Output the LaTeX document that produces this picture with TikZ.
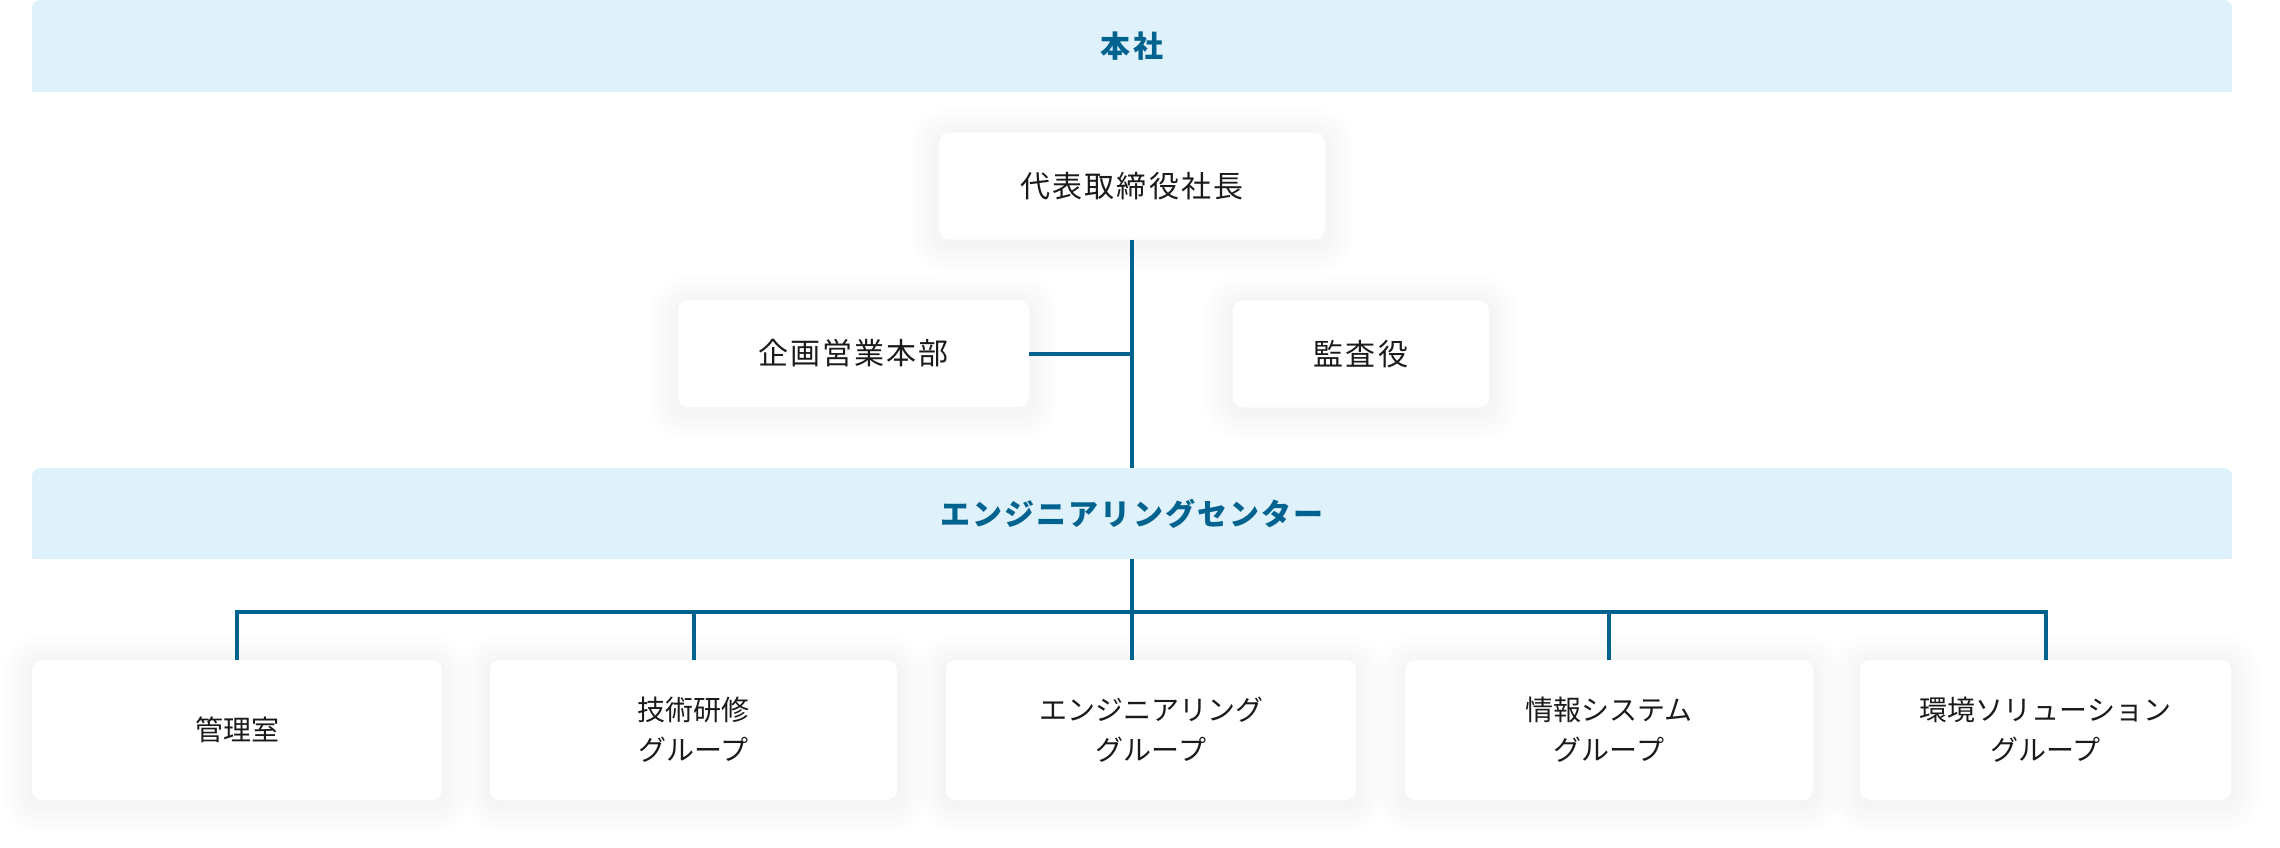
\documentclass[tikz,border=0pt]{standalone}
\usepackage{fontspec}
\setmainfont{Noto Sans CJK JP}
\newfontfamily\jpsp[LetterSpace=7]{Noto Sans CJK JP}
\usetikzlibrary{backgrounds}
\definecolor{navy}{HTML}{00638F}
\definecolor{bandbg}{HTML}{DFF2FB}
\definecolor{ink}{HTML}{1A1A1A}
\begin{document}
\begin{tikzpicture}[x=1pt,y=-1pt,
  conn/.style={draw=navy, line width=4pt},
  band/.style={fill=bandbg, rounded corners=8pt, minimum width=2200pt, inner sep=0pt, text=navy, font=\jpsp\bfseries\fontsize{30}{36}\selectfont},
  card/.style={fill=white, rounded corners=10pt, inner sep=0pt, text=ink},
  topcard/.style={card, minimum height=107pt, font=\jpsp\fontsize{30}{36}\selectfont},
  botcard/.style={card, minimum height=140pt, align=center, font=\fontsize{28}{40}\selectfont},
  shadowlayer/.style={fill=black, fill opacity=0.0035}]
\begin{scope}[on background layer]
\fill[white] (0,0) rectangle (2280,848);
\end{scope}
\useasboundingbox (0,0) rectangle (2280,848);
% bands
\fill[bandbg] (32,40) rectangle (2232,92);
\node[band, minimum height=92pt] (hq) at (1132,46) {本社};
\fill[bandbg] (32,510) rectangle (2232,559);
\node[band, minimum height=91pt] (eng) at (1132,513.5) {エンジニアリングセンター};
% top cards
\node[topcard, minimum width=386pt] (ceo) at (1132,186) {代表取締役社長};
\node[topcard, minimum width=351pt] (plan) at (853.5,353.5) {企画営業本部};
\node[topcard, minimum width=256pt] (audit) at (1361,354) {監査役};
% bottom cards
\node[botcard, minimum width=410pt] (c1) at (237,730) {管理室};
\node[botcard, minimum width=407pt] (c2) at (693.5,730) {技術研修\\グループ};
\node[botcard, minimum width=410pt] (c3) at (1151,730) {エンジニアリング\\グループ};
\node[botcard, minimum width=408pt] (c4) at (1609,730) {情報システム\\グループ};
\node[botcard, minimum width=371pt] (c5) at (2045.5,730) {環境ソリューション\\グループ};
% soft shadows
\begin{scope}[on background layer]
\foreach \n in {ceo,plan,audit,c1,c2,c3,c4,c5}{
  \foreach \k in {3,6,...,30}{
    \pgfmathsetmacro{\rr}{10+\k}
    \fill[shadowlayer, rounded corners=\rr pt]
      ([shift={(-\k pt,\k pt-4pt)}]\n.north west) rectangle
      ([shift={(\k pt,-\k pt-4pt)}]\n.south east);
  }
}
\end{scope}
% connectors
\coordinate (bus) at (1132,612);
\draw[conn] (ceo.south) -- (eng.north);
\draw[conn] (plan.east) -- (plan.east -| ceo.south);
\draw[conn] (eng.south) -- (eng.south |- c3.north);
\draw[conn] (c1.north) |- (bus) -| (c5.north);
\draw[conn] (c2.north) -- (c2.north |- bus);
\draw[conn] (c4.north) -- (c4.north |- bus);
\end{tikzpicture}
\end{document}
